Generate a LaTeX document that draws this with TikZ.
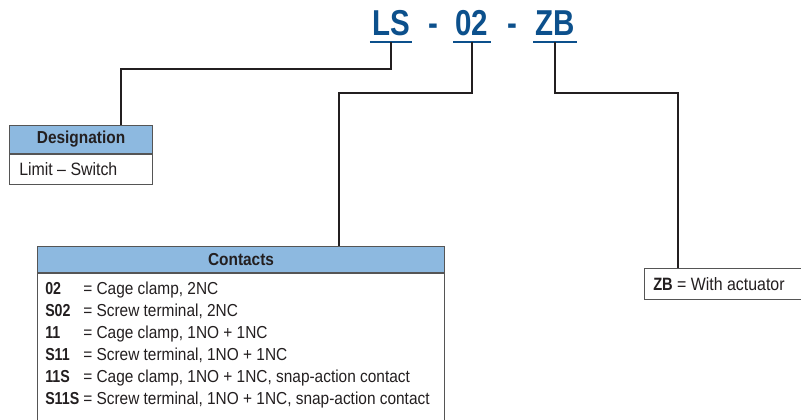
\documentclass[tikz,border=0pt]{standalone}
\usepackage{fontspec}
\setmainfont{Liberation Sans}[FakeStretch=0.89]
\newfontfamily\titlefont{Liberation Sans}[FakeStretch=0.82]
\usetikzlibrary{positioning,calc}
\definecolor{titleblue}{RGB}{12,80,140}
\definecolor{hdrblue}{RGB}{141,185,224}
\definecolor{edge}{RGB}{85,85,85}
\definecolor{ink}{RGB}{35,31,32}
\newcommand{\cd}[1]{{\titlefont\bfseries #1}}
\tikzset{
  code/.style={font=\titlefont\fontsize{27}{27}\selectfont\bfseries,text=titleblue,inner sep=0pt,anchor=base},
  uline/.style={draw=titleblue,line width=2.2pt},
  conn/.style={draw=ink,line width=1pt},
  hdr/.style={draw=edge,line width=0.8pt,fill=hdrblue,anchor=north west,inner sep=0pt,
    font=\fontsize{13}{13}\selectfont\bfseries,text=ink},
  body/.style={draw=edge,line width=0.8pt,fill=white,anchor=north west,inner sep=0pt,
    font=\fontsize{13}{13}\selectfont,text=ink},
}
\begin{document}
\begin{tikzpicture}[x=0.75pt,y=-0.75pt]
  \useasboundingbox (0,0) rectangle (801,420);
  % order code
  \node[code] (ls) at (391,36) {LS};
  \node[code] (d1) at (433,36) {-};
  \node[code] (nc) at (472,36) {02};
  \node[code] (d2) at (512,36) {-};
  \node[code] (zb) at (555,36) {ZB};
  \foreach \n in {ls,nc,zb}
    \draw[uline] ($(\n.base west)+(-2,6)$) -- ($(\n.base east)+(2,6)$);
  \coordinate (lsu) at ($(ls.base)+(0,6)$);
  \coordinate (ncu) at ($(nc.base)+(0,6)$);
  \coordinate (zbu) at ($(zb.base)+(0,6)$);

  % designation
  \node[hdr,minimum width=143*0.75pt,minimum height=28*0.75pt] (desig) at (9,125) {Designation};
  \node[body,minimum width=143*0.75pt,minimum height=30*0.75pt] (desigb) at (desig.south west) {};
  \node[anchor=west,inner sep=0pt,font=\fontsize{13.4}{13}\selectfont,text=ink] (desigt)
    at ($(desigb.west)+(10,0)$) {Limit -- Switch};

  % contacts
  \node[hdr,minimum width=407*0.75pt,minimum height=26*0.75pt] (cont) at (37,246) {Contacts};
  \node[body,minimum width=407*0.75pt,minimum height=160*0.75pt] (contb) at (cont.south west) {};
  \node[anchor=north west,inner sep=0pt,font=\fontsize{13}{16.5}\selectfont,text=ink] (contt)
    at ($(contb.north west)+(8,6)$) {%
    \begin{tabular}{@{}p{28.5pt}@{}l@{}}
      \cd{02}   & = Cage clamp, 2NC\\
      \cd{S02}  & = Screw terminal, 2NC\\
      \cd{11}   & = Cage clamp, 1NO + 1NC\\
      \cd{S11}  & = Screw terminal, 1NO + 1NC\\
      \cd{11S}  & = Cage clamp, 1NO + 1NC, snap-action contact\\
      \cd{S11S} & = Screw terminal, 1NO + 1NC, snap-action contact
    \end{tabular}};

  % actuator
  \node[body,minimum width=160*0.75pt,minimum height=31*0.75pt] (act) at (644,268) {};
  \node[anchor=west,inner sep=0pt,font=\fontsize{13.4}{13}\selectfont,text=ink] (actt)
    at ($(act.west)+(9,0)$) {\cd{ZB} = With actuator};

  % connectors
  \draw[conn] (lsu) -- ++(0,27) -| ($(desig.north west)+(112,0)$);
  \draw[conn] (ncu) -- ++(0,51) -| ($(cont.north west)+(302,0)$);
  \draw[conn] (zbu) -- ++(0,51) -| ($(act.north west)+(34,0)$);
\end{tikzpicture}
\end{document}
